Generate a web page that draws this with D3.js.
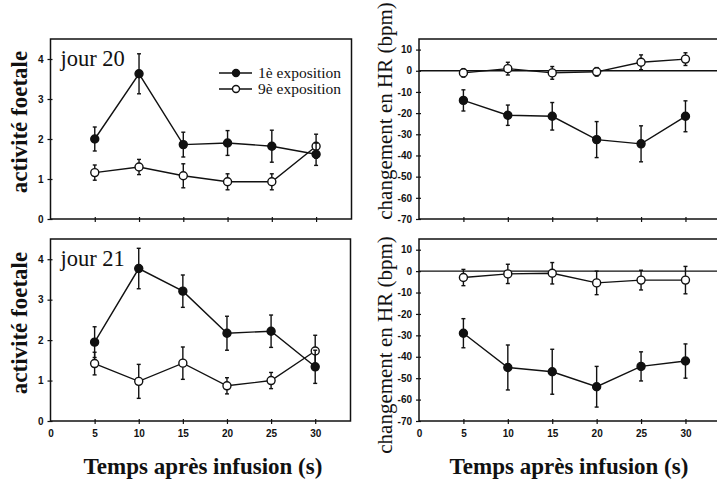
<!DOCTYPE html>
<html>
<head>
<meta charset="utf-8">
<script src="https://cdn.jsdelivr.net/npm/d3@7"></script>
<style>
  html, body { margin: 0; padding: 0; background: #fff; }
  svg { display: block; }
  .tick text { font-family: "Liberation Sans", Arial, sans-serif; font-weight: bold; font-size: 10px; fill: #111; }
  .tick line { stroke: #111; stroke-width: 1.2; }
</style>
</head>
<body>
<svg id="chart" width="717" height="481"></svg>
<script>
// Time points (s) after infusion
const times = [5, 10, 15, 20, 25, 30];

// Fetal activity, day 20
const act20First = [2.0, 3.63, 1.86, 1.9, 1.82, 1.62];
const act20FirstErr = [0.3, 0.5, 0.31, 0.31, 0.4, 0.28];
const act20Ninth = [1.16, 1.3, 1.08, 0.93, 0.93, 1.82];
const act20NinthErr = [0.19, 0.19, 0.3, 0.2, 0.2, 0.3];

// Fetal activity, day 21
const act21First = [1.95, 3.77, 3.21, 2.17, 2.22, 1.34];
const act21FirstErr = [0.38, 0.5, 0.4, 0.42, 0.4, 0.41];
const act21Ninth = [1.42, 0.98, 1.43, 0.87, 1.0, 1.73];
const act21NinthErr = [0.28, 0.42, 0.4, 0.2, 0.2, 0.39];

// Heart-rate change (bpm), day 20
const hr20First = [-14, -21, -21.5, -32.5, -34.5, -21.5];
const hr20FirstErr = [5, 4.8, 6.5, 8.5, 8.5, 7.3];
const hr20Ninth = [-1, 1, -1, -0.5, 4, 5.5];
const hr20NinthErr = [2, 3, 3, 2, 3.5, 3];

// Heart-rate change (bpm), day 21
const hr21First = [-29, -45, -47, -54, -44.5, -42];
const hr21FirstErr = [6.8, 10.5, 10.5, 9.5, 6.8, 8];
const hr21Ninth = [-3, -1.3, -1, -5.5, -4.2, -4.2];
const hr21NinthErr = [3.8, 4.5, 5, 5.5, 4.6, 6.4];

// Axis ticks and labels
const xTicks = [0, 5, 10, 15, 20, 25, 30];
const actTicks = [0, 1, 2, 3, 4];
const hrTicks = [10, 0, -10, -20, -30, -40, -50, -60, -70];
const legendLabels = ["1è exposition", "9è exposition"];
const dayLabels = ["jour 20", "jour 21"];
const xTitle = "Temps après infusion (s)";
const actTitle = "activité foetale";
const hrTitle = "changement en HR (bpm)";

const svg = d3.select("#chart");
const serif = '"Liberation Serif", "Times New Roman", serif';

function panel(cfg) {
  const x = d3.scaleLinear().domain([0, 34]).range([cfg.left, cfg.right]);
  const y = d3.scaleLinear().domain(cfg.yDomain).range([cfg.bottom, cfg.top]);
  const g = svg.append("g");

  // frame
  g.append("rect")
    .attr("x", cfg.left).attr("y", cfg.top)
    .attr("width", cfg.right - cfg.left).attr("height", cfg.bottom - cfg.top)
    .attr("fill", "none").attr("stroke", "#111").attr("stroke-width", 1.5);

  // y axis
  const ya = g.append("g").attr("transform", `translate(${cfg.left},0)`)
    .call(d3.axisLeft(y).tickValues(cfg.yTicks).tickSize(3).tickPadding(4).tickFormat(d => String(d)));
  ya.select(".domain").remove();
  ya.selectAll(".tick line").attr("x2", -3).attr("x1", 2);

  // x axis
  const xa = g.append("g").attr("transform", `translate(0,${cfg.bottom})`)
    .call(d3.axisBottom(x).tickValues(cfg.showXLabels ? xTicks : times).tickSize(3).tickPadding(6)
      .tickFormat(d => cfg.showXLabels ? String(d) : ""));
  xa.select(".domain").remove();
  xa.selectAll(".tick line").attr("y1", -2).attr("y2", 3);
  xa.selectAll(".tick").filter(d => d === 0).select("line").remove();

  // zero reference line
  if (cfg.zeroLine) {
    g.append("line")
      .attr("x1", cfg.left).attr("x2", cfg.right)
      .attr("y1", y(0)).attr("y2", y(0))
      .attr("stroke", "#111").attr("stroke-width", 1.4);
  }

  const line = d3.line().x(d => x(d.t)).y(d => y(d.v));

  function series(values, errs, filled) {
    const pts = times.map((t, i) => ({ t, v: values[i], e: errs[i] }));
    const s = g.append("g");
    s.append("path").datum(pts).attr("d", line)
      .attr("fill", "none").attr("stroke", "#111").attr("stroke-width", 1.4);
    const eb = s.selectAll(".eb").data(pts).enter().append("g");
    eb.append("line")
      .attr("x1", d => x(d.t)).attr("x2", d => x(d.t))
      .attr("y1", d => y(d.v - d.e)).attr("y2", d => y(d.v + d.e))
      .attr("stroke", "#111").attr("stroke-width", 1.4);
    [1, -1].forEach(sgn => {
      eb.append("line")
        .attr("x1", d => x(d.t) - 2).attr("x2", d => x(d.t) + 2)
        .attr("y1", d => y(d.v + sgn * d.e)).attr("y2", d => y(d.v + sgn * d.e))
        .attr("stroke", "#111").attr("stroke-width", 1.4);
    });
    s.selectAll("circle").data(pts).enter().append("circle")
      .attr("cx", d => x(d.t)).attr("cy", d => y(d.v)).attr("r", 4)
      .attr("fill", filled ? "#111" : "#fff")
      .attr("stroke", "#111").attr("stroke-width", 1.4);
  }

  series(cfg.ninth, cfg.ninthErr, false);
  series(cfg.first, cfg.firstErr, true);

  // y title
  g.append("text")
    .attr("transform", `translate(${cfg.titleX},${(cfg.top + cfg.bottom) / 2 + cfg.titleDy}) rotate(-90)`)
    .attr("text-anchor", "middle")
    .attr("font-family", serif)
    .attr("font-weight", cfg.titleBold ? "bold" : "normal")
    .attr("font-size", cfg.titleSize)
    .attr("fill", "#111")
    .text(cfg.title);

  if (cfg.day) {
    g.append("text")
      .attr("x", cfg.left + 10).attr("y", cfg.top + 27)
      .attr("font-family", serif).attr("font-size", 22.5).attr("fill", "#111")
      .text(cfg.day);
  }
  return { x, y, g };
}

const leftL = 50.5, leftR = 351.5, rightL = 419, rightR = 721;

panel({ left: leftL, right: leftR, top: 39, bottom: 219, yDomain: [0, 4.5], yTicks: actTicks,
  first: act20First, firstErr: act20FirstErr, ninth: act20Ninth, ninthErr: act20NinthErr,
  title: actTitle, titleX: 27, titleDy: -7, titleBold: true, titleSize: 23, day: dayLabels[0] });
panel({ left: leftL, right: leftR - 1, top: 239, bottom: 421, yDomain: [0, 4.5], yTicks: actTicks,
  first: act21First, firstErr: act21FirstErr, ninth: act21Ninth, ninthErr: act21NinthErr,
  title: actTitle, titleX: 27, titleDy: -7, titleBold: true, titleSize: 23, day: dayLabels[1], showXLabels: true });
panel({ left: rightL, right: rightR, top: 39, bottom: 219, yDomain: [-70, 15], yTicks: hrTicks,
  first: hr20First, firstErr: hr20FirstErr, ninth: hr20Ninth, ninthErr: hr20NinthErr, zeroLine: true,
  title: hrTitle, titleX: 392, titleDy: -18, titleBold: false, titleSize: 21 });
panel({ left: rightL, right: rightR, top: 239, bottom: 421, yDomain: [-70, 15], yTicks: hrTicks,
  first: hr21First, firstErr: hr21FirstErr, ninth: hr21Ninth, ninthErr: hr21NinthErr, zeroLine: true,
  title: hrTitle, titleX: 392, titleDy: 15, titleBold: false, titleSize: 21, showXLabels: true });

// legend (top-left panel)
const legend = svg.append("g").attr("transform", "translate(219,0)");
legendLabels.forEach((lab, i) => {
  const yy = 73 + i * 16;
  legend.append("line").attr("x1", 0).attr("x2", 33).attr("y1", yy).attr("y2", yy)
    .attr("stroke", "#111").attr("stroke-width", 1.4);
  legend.append("circle").attr("cx", 17).attr("cy", yy).attr("r", 3.5)
    .attr("fill", i === 0 ? "#111" : "#fff").attr("stroke", "#111").attr("stroke-width", 1.4);
  legend.append("text").attr("x", 39).attr("y", yy + 4.5)
    .attr("font-family", serif).attr("font-size", 15.5).attr("fill", "#111").text(lab);
});

// x titles
[(leftL + leftR) / 2 + 2, (rightL + 717) / 2 + 1].forEach(cx => {
  svg.append("text").attr("x", cx).attr("y", 474)
    .attr("text-anchor", "middle").attr("font-family", serif).attr("font-weight", "bold")
    .attr("font-size", 23).attr("fill", "#111").text(xTitle);
});
</script>
</body>
</html>
